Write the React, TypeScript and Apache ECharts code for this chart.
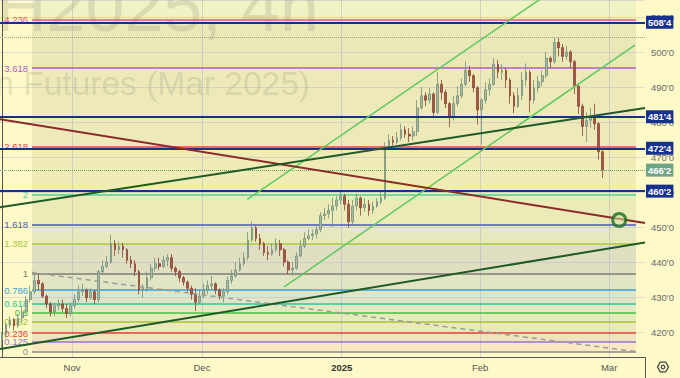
import React, { useEffect, useRef } from 'react';
import * as echarts from 'echarts';

// [open, close, low, high] — 4h-style bars
const candles: number[][] = [
  [417.75, 419.25, 415.5, 420.0], [419.25, 422.0, 418.25, 422.75], [422.0, 423.5, 421.25, 424.5], [423.5, 421.75, 420.5, 424.0],
  [421.75, 424.0, 421.25, 425.25], [424.0, 425.75, 422.75, 427.5], [425.75, 429.25, 425.25, 430.25], [429.25, 431.5, 428.5, 433.25],
  [431.5, 434.75, 430.75, 437.25], [434.75, 433.75, 432.0, 436.5], [433.75, 430.25, 429.75, 434.25], [430.25, 428.0, 426.75, 430.75],
  [428.0, 425.75, 424.5, 428.5], [425.75, 427.5, 424.5, 428.5], [427.5, 428.0, 426.25, 429.25], [428.0, 426.75, 425.75, 429.25],
  [426.75, 425.25, 424.0, 428.0], [425.25, 427.5, 424.5, 428.5], [427.5, 429.25, 426.75, 430.75], [429.25, 431.5, 428.5, 433.25],
  [431.5, 432.0, 430.25, 433.75], [432.0, 429.75, 428.5, 432.5], [429.75, 431.5, 429.25, 432.5], [431.5, 429.25, 428.0, 432.0],
  [429.25, 437.25, 428.5, 437.75], [437.25, 438.75, 436.5, 440.5], [438.75, 440.0, 438.25, 441.75], [440.0, 445.25, 439.5, 447.75],
  [445.25, 443.5, 441.75, 446.25], [443.5, 444.5, 442.25, 445.75], [444.5, 443.5, 441.25, 445.5], [443.5, 440.5, 439.5, 444.0],
  [440.5, 439.5, 438.25, 441.75], [439.5, 437.25, 436.0, 440.5], [437.25, 432.0, 430.75, 437.75], [432.0, 432.5, 429.75, 433.75],
  [432.5, 435.5, 431.5, 437.25], [435.5, 438.25, 434.75, 439.5], [438.25, 439.5, 437.25, 441.25], [439.5, 438.75, 437.75, 441.25],
  [438.75, 440.5, 438.25, 441.75], [440.5, 441.25, 438.75, 442.25], [441.25, 438.25, 437.25, 442.25], [438.25, 437.25, 436.0, 438.75],
  [437.25, 435.5, 434.25, 437.75], [435.5, 434.25, 433.25, 436.0], [434.25, 432.5, 431.5, 434.75], [432.5, 430.75, 429.25, 433.25],
  [430.75, 428.5, 426.0, 432.5], [428.5, 430.25, 428.0, 432.0], [430.25, 432.0, 429.75, 433.75], [432.0, 433.25, 430.75, 434.75],
  [433.25, 433.75, 432.0, 436.0], [433.75, 432.0, 430.75, 434.25], [432.0, 430.25, 429.25, 432.5], [430.25, 431.5, 428.5, 432.5],
  [431.5, 434.75, 430.75, 436.0], [434.75, 436.0, 433.75, 437.75], [436.0, 437.75, 435.5, 440.0], [437.75, 439.5, 437.25, 441.25],
  [439.5, 441.25, 438.75, 442.75], [441.25, 446.25, 440.5, 448.5], [446.25, 449.75, 445.75, 451.5], [449.75, 446.75, 445.75, 450.25],
  [446.75, 445.25, 443.5, 448.0], [445.25, 442.75, 441.75, 445.75], [442.75, 442.25, 440.5, 444.5], [442.25, 443.5, 441.75, 445.25],
  [443.5, 445.25, 442.75, 446.75], [445.25, 443.5, 441.75, 446.25], [443.5, 440.0, 438.75, 444.0], [440.0, 437.75, 436.5, 440.5],
  [437.75, 438.25, 436.0, 440.0], [438.25, 441.75, 437.75, 442.75], [441.75, 444.5, 441.25, 446.25], [444.5, 446.75, 444.0, 448.5],
  [446.75, 447.5, 446.25, 449.25], [447.5, 448.0, 446.25, 449.25], [448.0, 449.25, 446.75, 450.25], [449.25, 453.25, 448.5, 454.25],
  [453.25, 453.75, 452.0, 455.5], [453.75, 454.75, 452.5, 456.5], [454.75, 456.0, 450.0, 458.25], [456.0, 457.75, 454.75, 458.75],
  [457.75, 458.75, 456.5, 460.0], [458.75, 456.5, 454.75, 459.5], [456.5, 451.5, 449.75, 457.75], [451.5, 456.0, 450.75, 457.75],
  [456.0, 458.25, 454.75, 459.5], [458.25, 455.5, 453.25, 458.75], [455.5, 456.5, 454.25, 458.25], [456.5, 454.75, 453.25, 457.75],
  [454.75, 456.0, 453.75, 457.25], [456.0, 457.25, 455.5, 458.25], [457.25, 458.25, 456.5, 460.0], [458.25, 472.5, 457.75, 474.25],
  [472.5, 474.75, 472.0, 476.5], [474.75, 474.25, 473.25, 476.0], [474.25, 475.5, 473.75, 477.25], [475.5, 477.75, 474.75, 479.5],
  [477.75, 476.5, 475.5, 478.75], [476.5, 476.0, 474.25, 478.25], [476.0, 477.25, 474.75, 478.75], [477.25, 484.0, 476.0, 486.25],
  [484.0, 487.5, 483.5, 490.0], [487.5, 486.25, 484.5, 488.5], [486.25, 488.0, 485.25, 489.75], [488.0, 482.75, 481.25, 488.5],
  [482.75, 490.75, 482.25, 494.25], [490.75, 488.5, 486.25, 492.0], [488.5, 485.25, 484.0, 489.25], [485.25, 481.25, 478.5, 485.75],
  [481.25, 485.25, 480.5, 487.5], [485.25, 487.5, 484.5, 490.25], [487.5, 490.75, 486.75, 492.5], [490.75, 494.75, 490.25, 497.25],
  [494.75, 493.25, 491.5, 496.0], [493.25, 489.75, 488.5, 493.75], [489.75, 483.5, 479.25, 490.25], [483.5, 486.25, 473.5, 486.75],
  [486.25, 489.25, 485.25, 491.5], [489.25, 490.75, 487.5, 492.5], [490.75, 496.5, 490.25, 498.25], [496.5, 494.25, 492.5, 497.75],
  [494.25, 494.75, 492.0, 496.5], [494.75, 492.0, 489.75, 495.5], [492.0, 487.5, 485.25, 492.5], [487.5, 484.5, 482.5, 488.5],
  [484.5, 487.5, 484.0, 489.75], [487.5, 492.0, 486.25, 494.25], [492.0, 494.25, 490.25, 496.75], [494.25, 486.25, 482.75, 494.75],
  [486.25, 489.75, 485.25, 492.0], [489.75, 491.5, 488.5, 493.25], [491.5, 493.25, 490.25, 494.75], [493.25, 498.25, 492.5, 500.0],
  [498.25, 497.25, 495.5, 498.75], [497.25, 502.75, 496.5, 504.25], [502.75, 501.25, 498.75, 504.0], [501.25, 498.75, 497.25, 502.25],
  [498.75, 500.0, 497.75, 501.75], [500.0, 497.25, 495.5, 500.5], [497.25, 490.25, 488.0, 497.75], [490.25, 484.5, 482.25, 490.75],
  [484.5, 478.75, 476.0, 485.25], [478.75, 480.5, 474.25, 482.75], [480.5, 481.25, 478.25, 484.0], [481.25, 479.5, 477.75, 485.25],
  [479.5, 471.5, 469.25, 480.0], [471.5, 466.25, 464.0, 472.0],
];

const SLOTS = 160; // bar slots on the time axis (candles + empty right margin)
const categories = Array.from({ length: SLOTS }, (_, i) => `${i}`);

const priceMin = 412.86;
const priceMax = 514.86;

// month ticks (bar-slot positions) and their labels
const monthPos = [17.36, 49.6, 84.26, 118.6, 150.6];
const monthLabels = ['Nov', 'Dec', '2025', 'Feb', 'Mar'];

// Fibonacci extension
const fibFrom = 7.44;
const fibTo = 157.27;
const fibLabels = ['0', '0.125', '0.236', '0.382', '0.5', '0.618', '0.786', '1', '1.382', '1.618', '2', '2.618', '3.618', '4.236'];
const fibPrices = [414.37, 417.17, 419.65, 422.92, 425.57, 428.21, 431.97, 436.76, 445.31, 450.6, 459.15, 472.99, 495.38, 509.21];

// horizontal key levels
const keyLevels = [508.5, 481.5, 472.5, 460.25];
const keyLevelLabels = ["508'4", "481'4", "472'4", "460'2"];
const lastPrice = 466.25;
const lastPriceLabel = "466'2";
const rangeHigh = 504.3;

// drawn trend lines: [slot, price] end points
const resistanceLine = [[-0.5, 480.8], [159.5, 451.15]];
const supportUpper = [[-0.5, 455.63], [159.5, 484.0]];
const supportLower = [[-0.5, 415.14], [159.5, 445.57]];
const channelTop = [[60.85, 457.9], [136.8, 517.7]];
const channelBottom = [[70.0, 432.9], [157.0, 502.0]];
const dashedTrend = [[7.44, 437.0], [157.27, 414.4]];
const targetPoint = [153.1, 452.0];

const fibColors = ['#8a8a8a', '#9575cd', '#e0463c', '#a5c33a', '#43c043', '#2ec4a0', '#3aa0d8', '#7d7d72', '#a8c83c', '#4a56c0', '#4cd0a0', '#e0463c', '#b05cc8', '#e8509a'];
const fibBandColors = ['#f9e8c2', '#efe3be', '#ece8b9', '#e6ebba', '#e2eac2', '#dfe6c7', '#e2e5c4', '#e1dfc2', '#e6e8bd', '#ebebb8', '#efecb6', '#ede9b9', '#ebe8b8', '#f0f3c4'];

const FONT = '"Liberation Sans", Arial, sans-serif';

function buildOption(): any {
  const lineSeries = (pts: number[][], color: string, width: number, type: any, z: number) => ({
    type: 'line',
    xAxisIndex: 1,
    yAxisIndex: 0,
    data: pts,
    symbol: 'none',
    silent: true,
    clip: true,
    z,
    lineStyle: { color, width, type },
  });

  return {
    animation: false,
    backgroundColor: '#fdf9c8',
    textStyle: { fontFamily: FONT },
    grid: { left: 0, right: 35, top: 0, bottom: 21, containLabel: false },
    xAxis: [
      {
        type: 'category',
        data: categories,
        boundaryGap: true,
        z: 2,
        axisLine: { show: true, lineStyle: { color: '#555', width: 1 } },
        axisTick: { show: false },
        axisLabel: { show: false },
        splitLine: { show: false },
      },
      { type: 'value', min: -0.5, max: SLOTS - 0.5, show: false },
    ],
    yAxis: {
      type: 'value',
      position: 'right',
      min: priceMin,
      max: priceMax,
      splitNumber: 10,
      z: 2,
      axisLine: { show: true, lineStyle: { color: '#555', width: 1 } },
      axisTick: { show: false },
      axisLabel: {
        color: '#6b6b6b',
        fontSize: 9.5,
        margin: 6,
        showMinLabel: false,
        showMaxLabel: false,
        formatter: (v: number) => `${Math.round(v)}'0`,
      },
      splitLine: { show: true, lineStyle: { color: 'rgba(170,170,205,0.35)', width: 1 } },
    },
    graphic: {
      elements: [
        {
          type: 'text', z: 1, zlevel: 0, silent: true,
          style: { text: 'ZCH2025, 4h', x: 319, y: 7, align: 'right', textAlign: 'right', verticalAlign: 'middle', textVerticalAlign: 'middle', font: `70px ${FONT}`, fill: 'rgba(105,105,95,0.17)' },
        },
        {
          type: 'text', z: 1, zlevel: 0, silent: true,
          style: { text: 'Corn Futures (Mar 2025)', x: 310, y: 83, align: 'right', textAlign: 'right', verticalAlign: 'middle', textVerticalAlign: 'middle', font: `33.5px ${FONT}`, fill: 'rgba(105,105,95,0.17)' },
        },
        { type: 'line', silent: true, z: 5, shape: { x1: 645.5, y1: 357, x2: 645.5, y2: 378 }, style: { stroke: '#555', lineWidth: 1 } },
        {
          type: 'polygon', silent: true, z: 5,
          shape: { points: [[668.5, 367], [665.75, 371.8], [660.25, 371.8], [657.5, 367], [660.25, 362.2], [665.75, 362.2]] },
          style: { fill: 'none', stroke: '#444', lineWidth: 1.3 },
        },
        { type: 'circle', silent: true, z: 5, shape: { cx: 663, cy: 367, r: 1.8 }, style: { fill: 'none', stroke: '#444', lineWidth: 1.2 } },
      ],
    },
    series: [
      // fib background bands
      {
        type: 'line', xAxisIndex: 1, yAxisIndex: 0, data: [], z: 0, silent: true,
        markArea: {
          silent: true,
          z: 0,
          data: fibBandColors.map((c, k) => [
            { coord: [fibFrom, fibPrices[k]], itemStyle: { color: c, opacity: 1 } },
            { coord: [fibTo, k + 1 < fibPrices.length ? fibPrices[k + 1] : priceMax] },
          ]),
        },
      },
      // month grid lines + labels
      {
        type: 'line', xAxisIndex: 1, yAxisIndex: 0, data: [], z: 1, silent: true,
        markLine: {
          silent: true, symbol: ['none', 'none'], z: 1,
          data: monthPos.map((x, k) => ({
            xAxis: x,
            lineStyle: { color: 'rgba(170,170,205,0.45)', width: 1, type: 'solid' },
            label: {
              show: true, position: 'start', distance: 5, formatter: monthLabels[k],
              color: monthLabels[k] === '2025' ? '#333' : '#555', fontSize: 9.5,
              fontWeight: monthLabels[k] === '2025' ? 'bold' : 'normal',
            },
          })),
        },
      },
      // fib level lines
      {
        type: 'line', xAxisIndex: 1, yAxisIndex: 0, data: [], z: 2, silent: true,
        markLine: {
          silent: true, symbol: ['none', 'none'], z: 2,
          data: fibPrices.map((p, k) => [
            {
              coord: [fibFrom, p],
              lineStyle: { color: fibColors[k], width: 1.5, type: 'solid' },
              label: { show: true, position: 'start', distance: 4, formatter: fibLabels[k], color: fibColors[k], fontSize: 9.5 },
            },
            { coord: [fibTo, p] },
          ]),
        },
      },
      // candles
      {
        type: 'candlestick',
        xAxisIndex: 0,
        yAxisIndex: 0,
        data: candles,
        barWidth: 2.2,
        z: 3,
        silent: true,
        itemStyle: {
          color: '#a9b9a3', color0: '#a35c4a',
          borderColor: '#75907a', borderColor0: '#8c4434', borderWidth: 0.8,
        },
      },
      // key levels, last price and range high
      {
        type: 'line', xAxisIndex: 1, yAxisIndex: 0, data: [], z: 4, silent: true,
        markLine: {
          silent: true, symbol: ['none', 'none'], z: 4,
          data: [
            ...keyLevels.map((v, k) => ({
              yAxis: v,
              lineStyle: { color: '#16308e', width: 2, type: 'solid' },
              label: {
                show: true, position: 'end', distance: 1, formatter: keyLevelLabels[k],
                backgroundColor: '#16308e', color: '#ffffff', fontSize: 9.5, fontWeight: 'bold', padding: [2, 2, 1, 2],
              },
            })),
            {
              yAxis: lastPrice,
              lineStyle: { color: '#5f9f78', width: 1, type: 'dotted' },
              label: {
                show: true, position: 'end', distance: 1, formatter: lastPriceLabel,
                backgroundColor: '#6fa487', color: '#ffffff', fontSize: 9.5, fontWeight: 'bold', padding: [2, 2, 1, 2],
              },
            },
            {
              yAxis: rangeHigh,
              lineStyle: { color: '#a0a090', width: 1, type: 'dotted' },
              label: { show: false },
            },
          ],
        },
      },
      lineSeries(dashedTrend, '#9d9d96', 1.5, [5, 4], 5),
      lineSeries(channelTop, '#5fc85f', 1.5, 'solid', 5),
      lineSeries(channelBottom, '#5fc85f', 1.5, 'solid', 5),
      lineSeries(resistanceLine, '#8b2b2b', 2, 'solid', 5),
      lineSeries(supportUpper, '#1f5a26', 2, 'solid', 5),
      lineSeries(supportLower, '#1f5a26', 2, 'solid', 5),
      {
        type: 'scatter', xAxisIndex: 1, yAxisIndex: 0, data: [targetPoint], z: 6, silent: true,
        symbol: 'circle', symbolSize: 13,
        itemStyle: { color: 'rgba(215,225,160,0.7)', borderColor: '#1d6b22', borderWidth: 3 },
      },
    ],
  };
}

export default function App() {
  const ref = useRef<HTMLDivElement>(null);
  useEffect(() => {
    if (!ref.current) return;
    const chart = echarts.init(ref.current, undefined, { renderer: 'svg', width: 680, height: 378 });
    chart.setOption(buildOption());
    return () => chart.dispose();
  }, []);
  return <div ref={ref} style={{ position: 'fixed', left: 0, top: 0, width: 680, height: 378 }} />;
}
